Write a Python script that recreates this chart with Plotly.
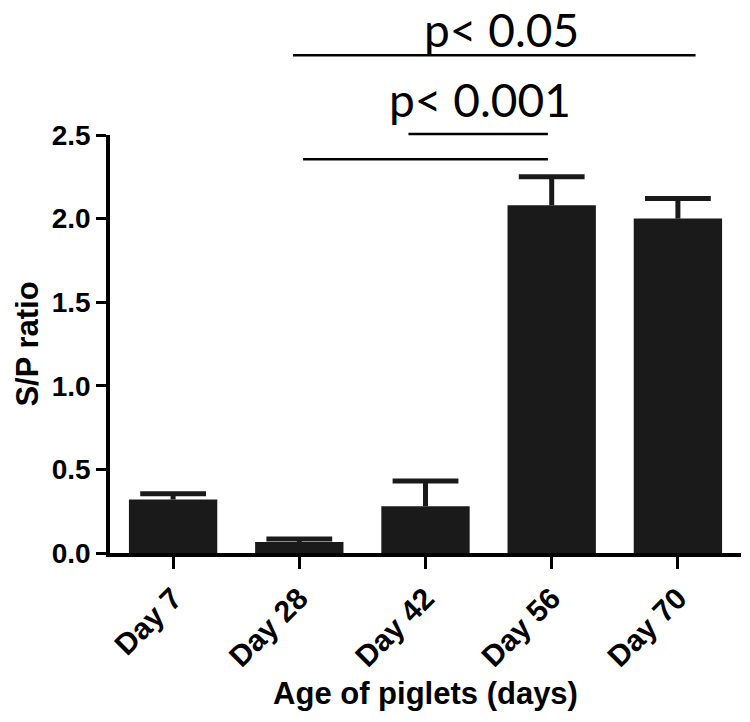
import plotly.graph_objects as go

# S/P ratio per age group (mean with upper SEM bar)
days = ["Day 7", "Day 28", "Day 42", "Day 56", "Day 70"]
sp_ratio = [0.32, 0.066, 0.28, 2.08, 2.00]
sp_err = [0.035, 0.018, 0.15, 0.17, 0.12]

# significance labels
p_labels = ["p< 0.05", "p< 0.001"]

bar_col = "#1a1a1a"
arial = "Liberation Sans, Arial, sans-serif"

fig = go.Figure()
# bars + error stems (no caps, plotly would draw a cap at the bar top too)
fig.add_trace(go.Bar(
    x=days, y=sp_ratio,
    width=0.7,
    marker=dict(color=bar_col, line=dict(width=0)),
    error_y=dict(type="data", symmetric=False, array=sp_err,
                 arrayminus=[0] * len(sp_err),
                 color=bar_col, thickness=5, width=0),
))
# upper caps only
fig.add_trace(go.Scatter(
    x=days, y=[v + e for v, e in zip(sp_ratio, sp_err)],
    mode="markers",
    marker=dict(symbol="line-ew", size=47, line=dict(color=bar_col, width=5)),
    hoverinfo="skip",
))

# bracket lines: (from, to, extend left, extend right, paper y)
brackets = [
    (days[1], days[4], -0.05, 0.14, 1.191),
    (days[2], days[3], -0.135, -0.03, 1.0025),
    (days[1], days[3], 0.03, -0.03, 0.942),
]
cat_idx = {d: i for i, d in enumerate(days)}
for a, b, da, db, yy in brackets:
    fig.add_shape(type="line", xref="x", yref="paper",
                  x0=cat_idx[a] + da, x1=cat_idx[b] + db, y0=yy, y1=yy,
                  line=dict(color="black", width=2.5))

p_font = dict(family="Lato, Open Sans, sans-serif", size=46, color="black")
fig.add_annotation(text=p_labels[0], xref="paper", yref="paper",
                   x=(501 - 110) / 631, y=(553 - 30) / 418,
                   showarrow=False, font=p_font, xanchor="center", yanchor="middle")
fig.add_annotation(text=p_labels[1], xref="paper", yref="paper",
                   x=(480 - 110) / 631, y=(553 - 99) / 418,
                   showarrow=False, font=p_font, xanchor="center", yanchor="middle")

fig.update_layout(
    width=750, height=722,
    margin=dict(l=110, r=9, t=135, b=169),
    plot_bgcolor="white", paper_bgcolor="white",
    showlegend=False,
)
fig.update_xaxes(
    range=[-0.5, 4.5], automargin=False,
    showline=True, linecolor="black", linewidth=3.5,
    ticks="outside", ticklen=12, tickwidth=3, tickcolor="black",
    tickangle=-45,
    tickfont=dict(family=arial, size=30, color="black", weight="bold"),
    showgrid=False, zeroline=False,
    title=dict(text="<b>Age of piglets (days)</b>", font=dict(family=arial, size=31, color="black"), standoff=11),
)
fig.update_yaxes(
    range=[0, 2.5], automargin=False,
    tickvals=[0, 0.5, 1.0, 1.5, 2.0, 2.5],
    tickformat=".1f",
    showline=True, linecolor="black", linewidth=3.5,
    ticks="outside", ticklen=10, tickwidth=3, tickcolor="black",
    tickfont=dict(family=arial, size=28, color="black", weight="bold"),
    showgrid=False, zeroline=False,
    title=dict(text="<b>S/P ratio</b>", font=dict(family=arial, size=31, color="black"), standoff=5),
)

# drop the browser's default 8px body margin so the figure sits at (0, 0)
fig.write_html("out.html", config={"displayModeBar": False},
               post_script="document.body.style.margin='0px';")
